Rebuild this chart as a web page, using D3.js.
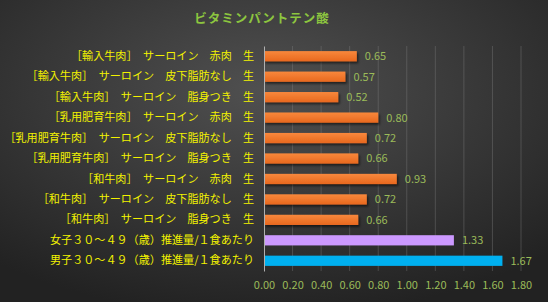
<!DOCTYPE html>
<html>
<head>
<meta charset="utf-8">
<script src="https://cdn.jsdelivr.net/npm/d3@7"></script>
<style>
  body { margin: 0; background: #2a2a2a; }
  svg { display: block; }
</style>
</head>
<body>
<div id="chart"></div>
<script>
// chart data
var title = "ビタミンパントテン酸";
var categories = [
  "［輸入牛肉］　サーロイン　赤肉　生",
  "［輸入牛肉］　サーロイン　皮下脂肪なし　生",
  "［輸入牛肉］　サーロイン　脂身つき　生",
  "［乳用肥育牛肉］　サーロイン　赤肉　生",
  "［乳用肥育牛肉］　サーロイン　皮下脂肪なし　生",
  "［乳用肥育牛肉］　サーロイン　脂身つき　生",
  "［和牛肉］　サーロイン　赤肉　生",
  "［和牛肉］　サーロイン　皮下脂肪なし　生",
  "［和牛肉］　サーロイン　脂身つき　生",
  "女子３０～４９（歳）推進量/１食あたり",
  "男子３０～４９（歳）推進量/１食あたり"
];
var values = [0.65, 0.57, 0.52, 0.80, 0.72, 0.66, 0.93, 0.72, 0.66, 1.33, 1.67];
var barKinds = ["food", "food", "food", "food", "food", "food", "food", "food", "food", "female", "male"];
var xTicks = [0, 0.2, 0.4, 0.6, 0.8, 1.0, 1.2, 1.4, 1.6, 1.8];

var svgWidth = 548;
var svgHeight = 302;

var margin = { top: 46, right: 27, bottom: 31, left: 264 };
var chartWidth = svgWidth - margin.left - margin.right;
var chartHeight = svgHeight - margin.top - margin.bottom;

var font = "'Noto Sans CJK JP', 'Noto Sans', sans-serif";

var svg = d3.select("#chart")
  .append("svg")
  .attr("width", svgWidth)
  .attr("height", svgHeight);

var defs = svg.append("defs");

// background: dark radial glow
var bg = defs.append("radialGradient")
  .attr("id", "bg")
  .attr("cx", "48%").attr("cy", "30%").attr("r", "75%");
bg.append("stop").attr("offset", "0%").attr("stop-color", "#505050");
bg.append("stop").attr("offset", "100%").attr("stop-color", "#222222");

var orange = defs.append("linearGradient")
  .attr("id", "orange").attr("x1", 0).attr("y1", 0).attr("x2", 0).attr("y2", 1);
orange.append("stop").attr("offset", "0%").attr("stop-color", "#f8883c");
orange.append("stop").attr("offset", "100%").attr("stop-color", "#e8681e");

var shadow = defs.append("filter").attr("id", "shadow")
  .attr("x", "-5%").attr("y", "-30%").attr("width", "115%").attr("height", "190%");
shadow.append("feDropShadow")
  .attr("dx", 1.5).attr("dy", 2).attr("stdDeviation", 1.2)
  .attr("flood-color", "#000").attr("flood-opacity", 0.55);

svg.append("rect")
  .attr("width", svgWidth)
  .attr("height", svgHeight)
  .attr("fill", "url(#bg)");

var fills = { food: "url(#orange)", female: "#cc99ff", male: "#00b0f0" };

var chart = svg.append("g")
  .attr("transform", `translate(${margin.left}, ${margin.top})`);

var x = d3.scaleLinear()
  .domain([0, 1.8])
  .range([0, chartWidth]);

var y = d3.scaleBand()
  .domain(categories)
  .range([0, chartHeight])
  .paddingInner(0.5)
  .paddingOuter(0.25);

// vertical gridlines
chart.append("g")
  .selectAll("line")
  .data(xTicks.slice(1))
  .enter().append("line")
    .attr("x1", function(d) { return x(d); })
    .attr("x2", function(d) { return x(d); })
    .attr("y1", 0)
    .attr("y2", chartHeight)
    .attr("stroke", "#8a8a8a")
    .attr("stroke-opacity", 0.35)
    .attr("stroke-width", 1);

// bars
chart.selectAll("rect.bar")
  .data(values)
  .enter().append("rect")
    .attr("class", "bar")
    .attr("x", 0)
    .attr("y", function(d, i) { return y(categories[i]); })
    .attr("width", function(d) { return x(d); })
    .attr("height", y.bandwidth())
    .attr("fill", function(d, i) { return fills[barKinds[i]]; })
    .attr("filter", function(d, i) { return barKinds[i] === "food" ? "url(#shadow)" : null; });

// value labels
chart.selectAll("text.value")
  .data(values)
  .enter().append("text")
    .attr("class", "value")
    .attr("x", function(d) { return x(d) + 8; })
    .attr("y", function(d, i) { return y(categories[i]) + y.bandwidth() / 2; })
    .attr("dy", "0.36em")
    .style("font-family", font)
    .style("font-size", "11px")
    .style("fill", "#9bbb59")
    .text(function(d) { return d.toFixed(2); });

// y axis (category labels)
var leftAxis = d3.axisLeft(y).tickSize(0).tickPadding(10);
var yAxis = chart.append("g").call(leftAxis);
yAxis.select(".domain").attr("stroke", "#b0b0b0").attr("stroke-width", 1);
yAxis.selectAll("text")
  .style("font-family", font)
  .style("font-size", "11.1px")
  .style("fill", "#f2f200");

// x axis
var bottomAxis = d3.axisBottom(x)
  .tickValues(xTicks)
  .tickSize(0)
  .tickPadding(10)
  .tickFormat(d3.format(".2f"));
var xAxis = chart.append("g")
  .attr("transform", `translate(0, ${chartHeight})`)
  .call(bottomAxis);
xAxis.select(".domain").remove();
xAxis.selectAll("text")
  .style("font-family", font)
  .style("font-size", "11px")
  .style("fill", "#9bbb59");

// title
svg.append("text")
  .attr("x", 262)
  .attr("y", 23)
  .attr("text-anchor", "middle")
  .style("font-family", font)
  .style("font-size", "12.5px")
  .style("font-weight", "bold")
  .style("letter-spacing", "1px")
  .style("fill", "#8dc63f")
  .text(title);
</script>
</body>
</html>
